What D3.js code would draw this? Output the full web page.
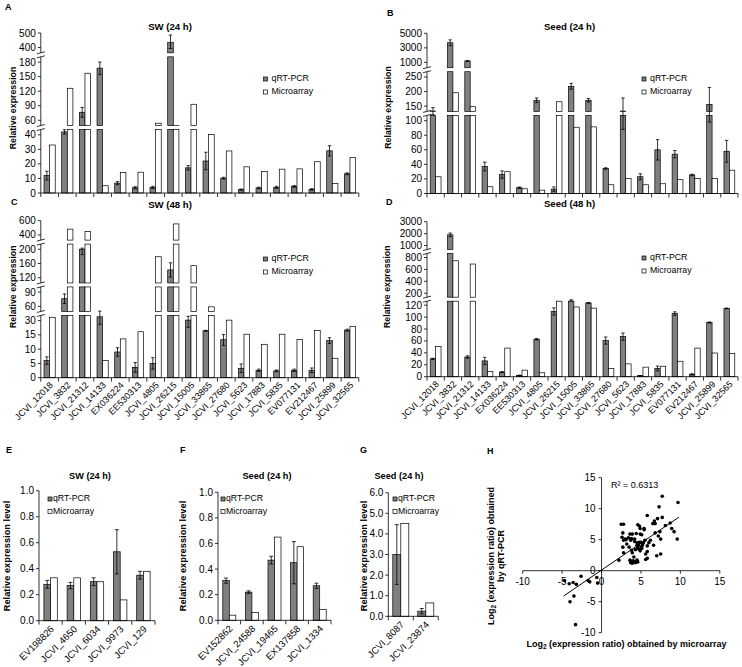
<!DOCTYPE html>
<html><head><meta charset="utf-8">
<script src="https://cdn.jsdelivr.net/npm/d3@7"></script>
<style>body{margin:0;background:#fff} svg{display:block} text{font-family:"Liberation Sans",Arial,sans-serif;fill:#000}</style>
</head><body><svg id="c" width="742" height="667"></svg>
<script>
// ---------- DATA ----------
const genes = ["JCVI_12018","JCVI_3832","JCVI_21312","JCVI_14133","EX036224","EE530313","JCVI_4805","JCVI_26215","JCVI_15005","JCVI_33865","JCVI_27680","JCVI_5623","JCVI_17883","JCVI_5835","EV077131","EV212467","JCVI_25899","JCVI_32565"];

const qrtA = [12, 44, 76.5, 167.5, 6.8, 3.6, 3.8, 436, 17.3, 22, 10.2, 2.3, 3.5, 3.9, 4.5, 2.5, 29, 13.2];
const errA = [3, 3, 10, 13, 1, 0.7, 0.8, 50, 1.5, 6, 0.6, 0.4, 0.5, 0.7, 0.6, 0.5, 3.5, 0.6];
const micA = [33, 126, 157, 5, 14, 14.3, 56, 53, 93, 40.5, 28.9, 18, 14.8, 16.4, 16.6, 21.5, 6.5, 24.5];
const ticksA = [0,10,20,30,40,60,90,120,150,180,400,500];

const qrtB = [133, 3700, 1200, 37, 26, 7.9, 170, 6, 218, 170, 34.3, 133, 23, 60, 54, 25.5, 156, 58];
const errB = [12, 400, 60, 6, 5, 1, 8, 3, 10, 6, 1, 45, 4, 14, 5, 1, 58, 15];
const micB = [23, 196, 148, 9.3, 30, 6.5, 4.6, 165, 91, 91.5, 12, 20.4, 12, 13.4, 19, 20.4, 20.4, 32];
const ticksB = [0,20,40,60,80,100,150,200,250,1000,3000,5000];

const qrtC = [6, 76, 200, 38, 9, 3.6, 5, 142, 31, 19.3, 13.3, 3.3, 2.6, 2.4, 2.6, 2.6, 13, 20];
const errC = [1.3, 10, 15, 12, 1.5, 1.7, 2, 20, 8, 0.5, 2, 1.5, 0.4, 0.3, 0.4, 0.8, 1, 1];
const micC = [37, 482, 450, 6, 13.6, 18.3, 179, 555, 154, 59, 31, 15.7, 11.7, 15.7, 13.4, 19.7, 6.8, 24];
const ticksC = [0,5,10,15,30,60,90,120,160,200,400,600];

const qrtD = [30, 1900, 33, 26.5, 7.7, 2.2, 62.8, 109.5, 152, 135, 60.6, 67.2, 1.7, 13.8, 105.8, 3.9, 90.9, 114.6];
const errD = [1, 150, 2, 6, 0.8, 0.5, 1.2, 6, 4, 3, 6, 6, 0.3, 4, 3, 1, 1, 0.6];
const micD = [50.7, 745, 690, 8.8, 48, 11, 6.6, 150, 117, 115, 13.8, 21.5, 16, 17.6, 25.9, 48, 39.7, 39.1];
const ticksD = [0,20,40,60,80,100,120,200,400,600,800,1000,2000,3000];

const genesE = ["EV198826","JCVI_4650","JCVI_6034","JCVI_9973","JCVI_129"];
const qrtE = [0.28, 0.27, 0.30, 0.53, 0.35];
const errE = [0.03, 0.025, 0.03, 0.17, 0.03];
const micE = [0.33, 0.33, 0.30, 0.16, 0.38];

const genesF = ["EV152862","JCVI_24588","JCVI_19465","EX137858","JCVI_1334"];
const qrtF = [0.31, 0.22, 0.47, 0.45, 0.27];
const errF = [0.02, 0.01, 0.03, 0.165, 0.02];
const micF = [0.04, 0.06, 0.65, 0.575, 0.085];

const genesG = ["JCVI_8087","JCVI_23874"];
const qrtG = [3.0, 0.25];
const errG = [1.45, 0.13];
const micG = [4.5, 0.65];

const scatterX = [-4.7,-4.1,-3.6,-3.2,-2.6,-1.7,-1.5,-0.6,-0.5,-3.5,-4.0,-3.3,
 2.5,2.8,2.7,2.6,2.8,3.4,3.7,2.7,2.8,2.2,4.6,4.8,4.9,4.9,3.9,4.2,4.5,4.8,5.0,5.3,
 5.4,5.4,5.8,6.7,6.8,7.1,7.3,7.7,7.7,9.7,9.6,9.2,8.9,8.7,8.1,7.4,7.2,7.5,6.8,6.6,
 7.0,7.5,5.8,5.8,5.6,5.8,5.6,5.1,4.9,4.6,4.3,3.8,3.9,3.6,3.8,4.0,4.2,3.9,4.3,4.5,
 4.6,3.7,4.1,3.2,3.5,4.2,4.5,4.7,3.6,3.8,5.1,5.5,6.0,6.2,5.1,3.0,3.1,4.4,4.7,5.2,6.5];
const scatterY = [-1.6,-2.1,-1.9,-2.2,-0.9,-1.6,-1.8,-1.1,-2.0,-4.1,-5.0,-8.7,
 7.5,7.5,6.1,5.4,4.9,5.3,4.9,3.8,2.9,1.7,7.4,7.2,6.8,5.9,5.9,5.1,4.5,4.6,4.6,4.5,
 6.6,6.8,8.9,8.0,7.6,8.4,10.3,12.0,8.6,11.0,5.1,6.3,6.8,7.7,7.3,6.3,5.6,5.1,6.1,4.1,
 2.4,2.7,4.0,3.1,2.7,2.0,1.8,3.6,3.2,3.8,3.4,3.3,2.9,1.7,1.5,1.6,1.4,1.2,1.3,1.7,
 1.4,1.3,2.2,4.3,3.8,4.7,4.1,4.1,5.9,5.2,5.8,4.9,4.5,4.9,3.9,5.1,5.0,6.0,3.5,4.2,7.6];
const trendSlope = 0.87, trendIntercept = 0.1, trendRange = [-4.8, 9.8];
const rSquared = "R² = 0.6313";

// ---------- DRAW ----------
const svg = d3.select("#c");
const QC = "#808080";

function legend(g, x, y, gap, fs, tx) {
  [["qRT-PCR", QC], ["Microarray", "#fff"]].forEach(([lab, col], i) => {
    g.append("rect").attr("x", x).attr("y", y + i*gap - 4).attr("width", 4).attr("height", 4)
      .attr("fill", col).attr("stroke", "#000").attr("stroke-width", 0.7);
    g.append("text").attr("x", x + tx).attr("y", y + i*gap).attr("font-size", fs).text(lab);
  });
}

function brokenPanel(c) {
  const g = svg.append("g");
  const x = d3.scaleBand().domain(c.cats).range([c.x0, c.x1]);
  const step = (c.yBottom - c.yTop) / (c.ticks.length - 1);
  const y = d3.scaleLinear().domain(c.ticks).range(c.ticks.map((_, i) => c.yBottom - i*step));
  const gaps = c.breaks.map(([a, b]) => { const yc = (y(a) + y(b)) / 2; return [yc - 2, yc + 2]; })
    .sort((p, q) => q[1] - p[1]);
  function pieces(v) {
    const yv = y(v); const out = []; let start = c.yBottom;
    gaps.forEach(([t, b]) => { if (yv < b && start > b) { out.push([b, start]); start = t; } });
    if (yv < start) out.push([yv, start]);
    return out;
  }
  const bw = c.bw;
  c.cats.forEach((cat, i) => {
    const cx = x(cat) + x.bandwidth() / 2;
    [[c.qrt[i], QC, cx - bw], [c.mic[i], "#fff", cx]].forEach(([v, col, bx]) => {
      pieces(v).forEach(([t, b]) => {
        g.append("rect").attr("x", bx).attr("y", t).attr("width", bw).attr("height", b - t)
          .attr("fill", col).attr("stroke", "#000").attr("stroke-width", 0.7);
      });
    });
    const ex = cx - bw / 2, e = c.err[i], v = c.qrt[i];
    const y1 = y(v + e), y2 = y(Math.max(v - e, 0));
    g.append("line").attr("x1", ex).attr("x2", ex).attr("y1", y1).attr("y2", y2).attr("stroke", "#000").attr("stroke-width", 0.8);
    [y1, y2].forEach(yy => g.append("line").attr("x1", ex - 1.7).attr("x2", ex + 1.7).attr("y1", yy).attr("y2", yy).attr("stroke", "#000").attr("stroke-width", 0.8));
  });
  // y axis with breaks
  let s = c.yBottom;
  gaps.forEach(([t, b]) => {
    g.append("line").attr("x1", c.x0).attr("x2", c.x0).attr("y1", s).attr("y2", b).attr("stroke", "#000").attr("stroke-width", 0.8);
    [t, b].forEach(yy => g.append("line").attr("x1", c.x0 - 4).attr("x2", c.x0 + 4).attr("y1", yy + 1).attr("y2", yy - 1).attr("stroke", "#000").attr("stroke-width", 0.8));
    s = t;
  });
  g.append("line").attr("x1", c.x0).attr("x2", c.x0).attr("y1", s).attr("y2", c.yTop).attr("stroke", "#000").attr("stroke-width", 0.8);
  c.ticks.forEach(t => {
    g.append("line").attr("x1", c.x0 - 3).attr("x2", c.x0).attr("y1", y(t)).attr("y2", y(t)).attr("stroke", "#000").attr("stroke-width", 0.8);
    g.append("text").attr("x", c.x0 - 5).attr("y", y(t)).attr("dy", "0.35em").attr("text-anchor", "end").attr("font-size", 10).text(t);
  });
  // x axis
  g.append("line").attr("x1", c.x0).attr("x2", c.x1).attr("y1", c.yBottom).attr("y2", c.yBottom).attr("stroke", "#000").attr("stroke-width", 0.8);
  for (let i = 0; i <= c.cats.length; i++) {
    const xx = c.x0 + i * x.step();
    g.append("line").attr("x1", xx).attr("x2", xx).attr("y1", c.yBottom).attr("y2", c.yBottom + 4).attr("stroke", "#000").attr("stroke-width", 0.8);
  }
  if (c.xLabels) {
    c.cats.forEach(cat => {
      const cx = x(cat) + x.bandwidth() / 2;
      g.append("text").attr("transform", `translate(${cx + 4},${c.yBottom + 8}) rotate(-45)`)
        .attr("text-anchor", "end").attr("font-size", 9).text(cat);
    });
  }
  g.append("text").attr("x", c.titleX).attr("y", c.titleY).attr("text-anchor", "middle").attr("font-size", 9.6).attr("font-weight", "bold").text(c.title);
  g.append("text").attr("x", c.letterX).attr("y", c.letterY).attr("font-size", 9).attr("font-weight", "bold").text(c.letter);
  g.append("text").attr("transform", `translate(${c.yTitleX},${c.yTitleY}) rotate(-90)`).attr("text-anchor", "middle")
    .attr("font-size", 8.8).attr("font-weight", "bold").text("Relative expression");
  legend(g, c.legX, c.legY, 13, 8.8, 8);
}

brokenPanel({cats: genes, qrt: qrtA, err: errA, mic: micA, ticks: ticksA, breaks: [[40,60],[180,400]],
  x0: 40.8, x1: 358.8, yBottom: 193, yTop: 33, bw: 5.6, xLabels: false,
  title: "SW (24 h)", titleX: 170, titleY: 30, letter: "A", letterX: 5, letterY: 10,
  yTitleX: 16, yTitleY: 108, legX: 263.5, legY: 81});
brokenPanel({cats: genes, qrt: qrtB, err: errB, mic: micB, ticks: ticksB, breaks: [[100,150],[250,1000]],
  x0: 427, x1: 738, yBottom: 193.5, yTop: 33.3, bw: 5.4, xLabels: false,
  title: "Seed (24 h)", titleX: 569.5, titleY: 30, letter: "B", letterX: 387, letterY: 16,
  yTitleX: 391, yTitleY: 107.5, legX: 642, legY: 81});
brokenPanel({cats: genes, qrt: qrtC, err: errC, mic: micC, ticks: ticksC, breaks: [[30,60],[90,120],[200,400]],
  x0: 40.8, x1: 358.8, yBottom: 377.7, yTop: 220.7, bw: 5.6, xLabels: true,
  title: "SW (48 h)", titleX: 170, titleY: 208, letter: "C", letterX: 11, letterY: 205,
  yTitleX: 16, yTitleY: 286.7, legX: 263.5, legY: 261});
brokenPanel({cats: genes, qrt: qrtD, err: errD, mic: micD, ticks: ticksD, breaks: [[120,200],[800,1000]],
  x0: 427, x1: 738, yBottom: 376.7, yTop: 221.7, bw: 5.4, xLabels: true,
  title: "Seed (48 h)", titleX: 569.5, titleY: 207, letter: "D", letterX: 386, letterY: 205,
  yTitleX: 390, yTitleY: 286.7, legX: 642, legY: 260});

function simplePanel(c) {
  const g = svg.append("g");
  const x = d3.scaleBand().domain(c.cats).range([c.x0, c.x1]);
  const y = d3.scaleLinear().domain([0, c.yMax]).range([c.yBottom, c.yTop]);
  const bw = c.bw;
  c.cats.forEach((cat, i) => {
    const cx = x(cat) + x.bandwidth() / 2;
    g.append("rect").attr("x", cx - bw).attr("y", y(c.qrt[i])).attr("width", bw).attr("height", c.yBottom - y(c.qrt[i]))
      .attr("fill", QC).attr("stroke", "#000").attr("stroke-width", 0.7);
    g.append("rect").attr("x", cx).attr("y", y(c.mic[i])).attr("width", bw).attr("height", c.yBottom - y(c.mic[i]))
      .attr("fill", "#fff").attr("stroke", "#000").attr("stroke-width", 0.7);
    const ex = cx - bw / 2, y1 = y(c.qrt[i] + c.err[i]), y2 = y(c.qrt[i] - c.err[i]);
    g.append("line").attr("x1", ex).attr("x2", ex).attr("y1", y1).attr("y2", y2).attr("stroke", "#000").attr("stroke-width", 0.8);
    [y1, y2].forEach(yy => g.append("line").attr("x1", ex - 2).attr("x2", ex + 2).attr("y1", yy).attr("y2", yy).attr("stroke", "#000").attr("stroke-width", 0.8));
  });
  g.append("line").attr("x1", c.x0).attr("x2", c.x0).attr("y1", c.yBottom).attr("y2", c.yTop).attr("stroke", "#000").attr("stroke-width", 0.8);
  y.ticks(c.nTicks).forEach(t => {
    g.append("line").attr("x1", c.x0 - 3).attr("x2", c.x0).attr("y1", y(t)).attr("y2", y(t)).attr("stroke", "#000").attr("stroke-width", 0.8);
    g.append("text").attr("x", c.x0 - 5).attr("y", y(t)).attr("dy", "0.35em").attr("text-anchor", "end").attr("font-size", 10).text(d3.format(".1f")(t));
  });
  g.append("line").attr("x1", c.x0).attr("x2", c.x1).attr("y1", c.yBottom).attr("y2", c.yBottom).attr("stroke", "#000").attr("stroke-width", 0.8);
  for (let i = 0; i <= c.cats.length; i++) {
    const xx = c.x0 + i * x.step();
    g.append("line").attr("x1", xx).attr("x2", xx).attr("y1", c.yBottom).attr("y2", c.yBottom + 4).attr("stroke", "#000").attr("stroke-width", 0.8);
  }
  c.cats.forEach(cat => {
    const cx = x(cat) + x.bandwidth() / 2;
    g.append("text").attr("transform", `translate(${cx + 4},${c.yBottom + 9}) rotate(-45)`)
      .attr("text-anchor", "end").attr("font-size", 9.5).text(cat);
  });
  g.append("text").attr("x", c.titleX).attr("y", 479).attr("text-anchor", "middle").attr("font-size", 9.2).attr("font-weight", "bold").text(c.title);
  g.append("text").attr("x", c.letterX).attr("y", 453).attr("font-size", 9).attr("font-weight", "bold").text(c.letter);
  g.append("text").attr("transform", `translate(${c.yTitleX},556) rotate(-90)`).attr("text-anchor", "middle")
    .attr("font-size", 9.3).attr("font-weight", "bold").text("Relative expression level");
  legend(g, c.legX, 501, 12.5, 8.7, 5);
}

simplePanel({cats: genesE, qrt: qrtE, err: errE, mic: micE, yMax: 1.0, nTicks: 5,
  x0: 39, x1: 155, yBottom: 620.7, yTop: 490.7, bw: 6.7,
  title: "SW (24 h)", titleX: 90, letter: "E", letterX: 6, yTitleX: 10, legX: 48});
simplePanel({cats: genesF, qrt: qrtF, err: errF, mic: micF, yMax: 1.0, nTicks: 5,
  x0: 218, x1: 331, yBottom: 620.3, yTop: 492.3, bw: 6.5,
  title: "Seed (24 h)", titleX: 267, letter: "F", letterX: 180, yTitleX: 186, legX: 221});
simplePanel({cats: genesG, qrt: qrtG, err: errG, mic: micG, yMax: 6.0, nTicks: 6,
  x0: 388.3, x1: 438.3, yBottom: 616.3, yTop: 492.7, bw: 8,
  title: "Seed (24 h)", titleX: 399, letter: "G", letterX: 360, yTitleX: 367, legX: 393});

// ---------- H scatter ----------
(function () {
  const g = svg.append("g");
  const x = d3.scaleLinear().domain([-10, 15]).range([522.7, 719.8]);
  const y = d3.scaleLinear().domain([-10, 15]).range([632.7, 477.7]);
  const ax = "#000";
  g.append("line").attr("x1", x(-10)).attr("x2", x(15)).attr("y1", y(0)).attr("y2", y(0)).attr("stroke", ax).attr("stroke-width", 0.8);
  g.append("line").attr("x1", x(0)).attr("x2", x(0)).attr("y1", y(-10)).attr("y2", y(15)).attr("stroke", ax).attr("stroke-width", 0.8);
  [-10, -5, 0, 5, 10, 15].forEach(t => {
    g.append("line").attr("x1", x(t)).attr("x2", x(t)).attr("y1", y(0)).attr("y2", y(0) + 3).attr("stroke", ax).attr("stroke-width", 0.8);
    g.append("text").attr("x", x(t)).attr("y", y(0) + 14).attr("text-anchor", "middle").attr("font-size", 10).text(t);
    g.append("line").attr("x1", x(0) - 3).attr("x2", x(0)).attr("y1", y(t)).attr("y2", y(t)).attr("stroke", ax).attr("stroke-width", 0.8);
    g.append("text").attr("x", x(0) - 6).attr("y", y(t)).attr("dy", "0.35em").attr("text-anchor", "end").attr("font-size", 10).text(t);
  });
  g.append("line").attr("x1", x(trendRange[0])).attr("x2", x(trendRange[1]))
    .attr("y1", y(trendIntercept + trendSlope * trendRange[0])).attr("y2", y(trendIntercept + trendSlope * trendRange[1]))
    .attr("stroke", "#000").attr("stroke-width", 1);
  scatterX.forEach((v, i) => g.append("circle").attr("cx", x(v)).attr("cy", y(scatterY[i])).attr("r", 1.8).attr("fill", "#000"));
  g.append("text").attr("x", 611).attr("y", 488).attr("font-size", 9).text(rSquared);
  g.append("text").attr("x", 487).attr("y", 454).attr("font-size", 9).attr("font-weight", "bold").text("H");
  const xt = g.append("text").attr("x", 626.5).attr("y", 647).attr("text-anchor", "middle").attr("font-size", 9).attr("font-weight", "bold");
  xt.append("tspan").text("Log");
  xt.append("tspan").attr("font-size", 6.5).attr("dy", 2).text("2");
  xt.append("tspan").attr("dy", -2).text(" (expression ratio) obtained by microarray");
  const yt = g.append("text").attr("transform", "translate(494,556) rotate(-90)").attr("text-anchor", "middle").attr("font-size", 9).attr("font-weight", "bold");
  yt.append("tspan").text("Log");
  yt.append("tspan").attr("font-size", 6.5).attr("dy", 2).text("2");
  yt.append("tspan").attr("dy", -2).text(" (expression ratio) obtained");
  g.append("text").attr("transform", "translate(504,556) rotate(-90)").attr("text-anchor", "middle").attr("font-size", 9).attr("font-weight", "bold").text("by qRT-PCR");
})();
</script></body></html>
